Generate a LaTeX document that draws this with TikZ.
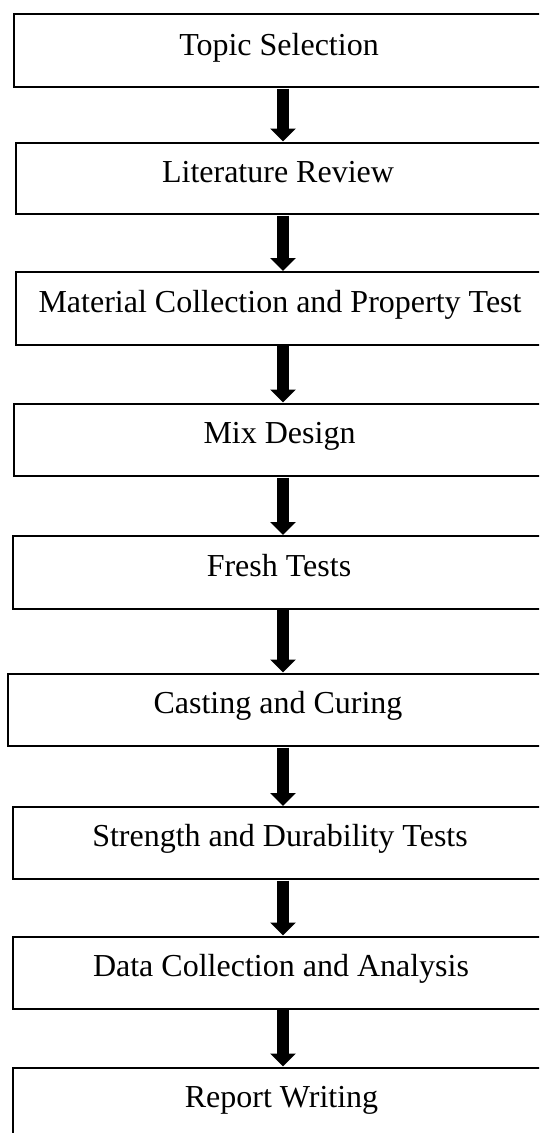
\documentclass[tikz,border=0pt]{standalone}
\usepackage{fontspec}
\setmainfont{Liberation Serif}
\usetikzlibrary{arrows.meta}
\begin{document}
\begin{tikzpicture}[x=1pt,y=-1pt,
  stepbox/.style={draw=black, line width=2pt, rectangle, inner sep=0pt, fill=white},
  lbl/.style={inner sep=0pt, anchor=base, font=\fontsize{32}{36}\selectfont},
  flow/.style={line width=12.5pt, -{Triangle[width=25pt,length=13pt]}, shorten <=0.5pt}]
\useasboundingbox (0,0) rectangle (539,1133);
\fill[white] (0,0) rectangle (539,1133);
\clip (0,0) rectangle (539,1133);
\coordinate (ax) at (283,0);
% boxes: left, top, bottom ; right edge at 555 (cut off)
\node[stepbox, minimum width=541pt,   minimum height=73pt] (b1) at (284.5, 50.5) {};
\node[stepbox, minimum width=539pt,   minimum height=71.5pt] (b2) at (285.5, 178.25) {};
\node[stepbox, minimum width=539.5pt, minimum height=72.5pt] (b3) at (285.25, 308.25) {};
\node[stepbox, minimum width=541pt,   minimum height=72.5pt] (b4) at (284.5, 439.75) {};
\node[stepbox, minimum width=542.3pt, minimum height=72.5pt] (b5) at (283.85, 572.25) {};
\node[stepbox, minimum width=547.4pt, minimum height=72.5pt] (b6) at (281.3, 709.75) {};
\node[stepbox, minimum width=542.3pt, minimum height=72pt] (b7) at (283.85, 843) {};
\node[stepbox, minimum width=542.3pt, minimum height=72pt] (b8) at (283.85, 972.5) {};
\node[stepbox, minimum width=542.3pt, minimum height=72.5pt] (b9) at (283.85, 1103.75) {};
% labels
\node[lbl] (t1) at (279, 55) {Topic Selection};
\node[lbl] (t2) at (278, 182.7) {Literature Review};
\node[lbl] (t3) at (280, 312.7) {Material Collection and Property Test};
\node[lbl] (t4) at (279.5, 443.3) {Mix Design};
\node[lbl] (t5) at (279, 576.7) {Fresh Tests};
\node[lbl] (t6) at (278, 713.3) {Casting and Curing};
\node[lbl] (t7) at (280, 846.7) {Strength and Durability Tests};
\node[lbl] (t8) at (281, 976.7) {Data Collection and Analysis};
\node[lbl] (t9) at (281.5, 1107.7) {Report Writing};
% arrows
\draw[flow] (b1.south -| ax) -- (b2.north -| ax);
\draw[flow] (b2.south -| ax) -- (b3.north -| ax);
\draw[flow] (b3.south -| ax) -- (b4.north -| ax);
\draw[flow] (b4.south -| ax) -- (b5.north -| ax);
\draw[flow] (b5.south -| ax) -- (b6.north -| ax);
\draw[flow] (b6.south -| ax) -- (b7.north -| ax);
\draw[flow] (b7.south -| ax) -- (b8.north -| ax);
\draw[flow] (b8.south -| ax) -- (b9.north -| ax);
\end{tikzpicture}
\end{document}
